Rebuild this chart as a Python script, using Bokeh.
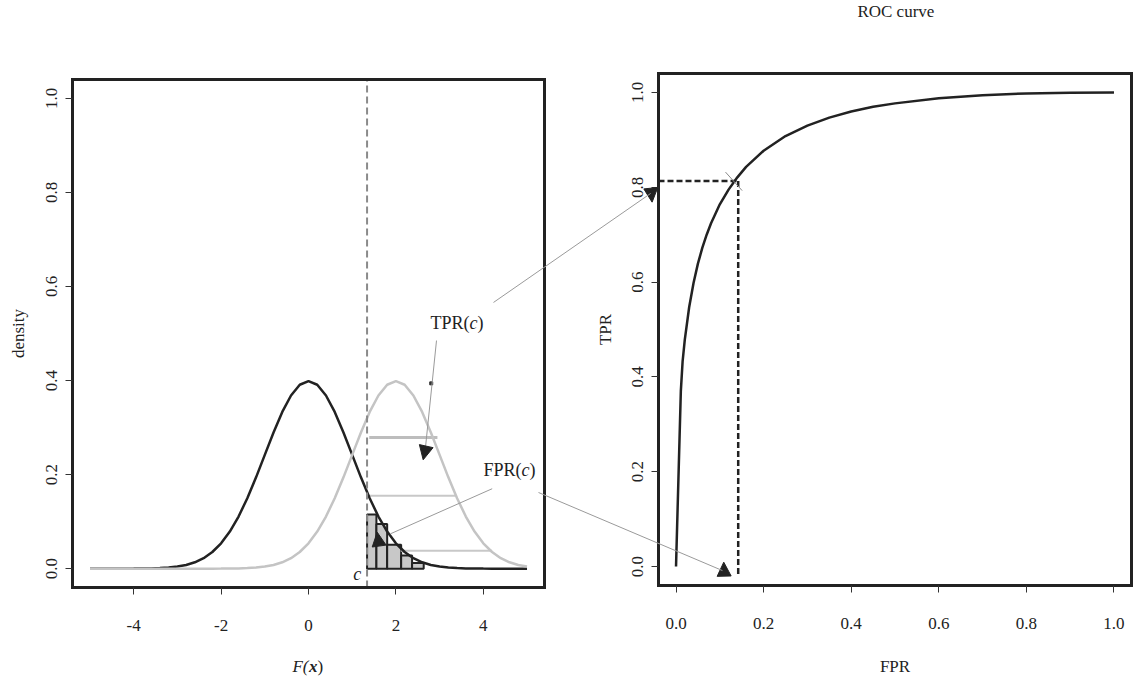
from bokeh.plotting import figure
from bokeh.models import (FixedTicker, Label, Arrow, NormalHead, Range1d, LinearAxis)
from bokeh.embed import file_html
from bokeh.resources import INLINE

FONT = "Liberation Serif"
INK = "#222222"

# ---------------- data ----------------
x_grid = [-5.0, -4.8, -4.6, -4.4, -4.2, -4.0, -3.8, -3.6, -3.4, -3.2, -3.0,
          -2.8, -2.6, -2.4, -2.2, -2.0, -1.8, -1.6, -1.4, -1.2, -1.0,
          -0.8, -0.6, -0.4, -0.2, 0.0, 0.2, 0.4, 0.6, 0.8, 1.0,
          1.2, 1.4, 1.6, 1.8, 2.0, 2.2, 2.4, 2.6, 2.8, 3.0,
          3.2, 3.4, 3.6, 3.8, 4.0, 4.2, 4.4, 4.6, 4.8, 5.0]
dens_negative = [0.0, 0.0, 0.00001, 0.00002, 0.00006, 0.00013, 0.00029, 0.00061, 0.00123, 0.00238, 0.00443,
                 0.00792, 0.01358, 0.02239, 0.03547, 0.05399, 0.07895, 0.11092, 0.14973, 0.19419, 0.24197,
                 0.28969, 0.33322, 0.36827, 0.39104, 0.39894, 0.39104, 0.36827, 0.33322, 0.28969, 0.24197,
                 0.19419, 0.14973, 0.11092, 0.07895, 0.05399, 0.03547, 0.02239, 0.01358, 0.00792, 0.00443,
                 0.00238, 0.00123, 0.00061, 0.00029, 0.00013, 0.00006, 0.00002, 0.00001, 0.0, 0.0]
dens_positive = [0.0, 0.0, 0.0, 0.0, 0.0, 0.0, 0.0, 0.0, 0.0, 0.0, 0.0,
                 0.0, 0.00001, 0.00002, 0.00006, 0.00013, 0.00029, 0.00061, 0.00123, 0.00238, 0.00443,
                 0.00792, 0.01358, 0.02239, 0.03547, 0.05399, 0.07895, 0.11092, 0.14973, 0.19419, 0.24197,
                 0.28969, 0.33322, 0.36827, 0.39104, 0.39894, 0.39104, 0.36827, 0.33322, 0.28969, 0.24197,
                 0.19419, 0.14973, 0.11092, 0.07895, 0.05399, 0.03547, 0.02239, 0.01358, 0.00792, 0.00443]

cutoff = 1.34

fpr_bar_left = [1.34, 1.554, 1.80, 2.12, 2.37]
fpr_bar_right = [1.554, 1.80, 2.12, 2.37, 2.636]
fpr_bar_top = [0.115, 0.095, 0.051, 0.028, 0.012]

tpr_line_y = [0.279, 0.155, 0.038]
tpr_line_x0 = [1.39, 1.39, 2.11]
tpr_line_x1 = [2.95, 3.36, 4.20]

roc_fpr = [0.0, 0.011, 0.015, 0.02, 0.03, 0.04, 0.05, 0.06, 0.07, 0.08, 0.10, 0.12, 0.14, 0.16,
           0.20, 0.25, 0.30, 0.35, 0.40, 0.45, 0.50, 0.60, 0.70, 0.80, 0.90, 1.00]
roc_tpr = [0.0, 0.37, 0.432, 0.478, 0.547, 0.598, 0.639, 0.672, 0.70, 0.724, 0.764, 0.795, 0.821, 0.843,
           0.877, 0.908, 0.930, 0.947, 0.960, 0.970, 0.977, 0.988, 0.994, 0.998, 0.9995, 1.0]

op_fpr = 0.142
op_tpr = 0.813

left_xticks = [-4, -2, 0, 2, 4]
left_xlabels = ["-4", "-2", "0", "2", "4"]
unit_ticks = [0.0, 0.2, 0.4, 0.6, 0.8, 1.0]
unit_labels = ["0.0", "0.2", "0.4", "0.6", "0.8", "1.0"]

# ---------------- layout (one canvas, two panels) ----------------
W, H = 1137, 682
# panel frames in page pixels: (left, right, top, bottom)
L_FRAME = (72, 544, 79, 587)
R_FRAME = (658, 1131, 73, 585)
LX = (-5.4, 5.4)
LY = (-0.04, 1.04)
RX = (-0.04, 1.04)
RY = (-0.04, 1.04)


def canvas_range(frame, xr, yr):
    l, r, t, b = frame
    sx = (r - l) / (xr[1] - xr[0])
    sy = (b - t) / (yr[1] - yr[0])
    xrange = Range1d(xr[0] - l / sx, xr[0] + (W - l) / sx)
    yrange = Range1d(yr[0] - (H - b) / sy, yr[1] + t / sy)
    return xrange, yrange


def to_page(frame, xr, yr, x, y):
    l, r, t, b = frame
    return (l + (x - xr[0]) / (xr[1] - xr[0]) * (r - l),
            b - (y - yr[0]) / (yr[1] - yr[0]) * (b - t))


def from_page(frame, xr, yr, px, py):
    l, r, t, b = frame
    return (xr[0] + (px - l) / (r - l) * (xr[1] - xr[0]),
            yr[0] + (b - py) / (b - t) * (yr[1] - yr[0]))


lxr, lyr = canvas_range(L_FRAME, LX, LY)
rxr, ryr = canvas_range(R_FRAME, RX, RY)

p = figure(width=W, height=H, x_range=Range1d(0, W), y_range=Range1d(H, 0),
           x_axis_type=None, y_axis_type=None, output_backend="svg",
           toolbar_location=None, min_border=0, min_border_left=0, min_border_right=0,
           min_border_top=0, min_border_bottom=0)
p.extra_x_ranges = {"lx": lxr, "rx": rxr}
p.extra_y_ranges = {"ly": lyr, "ry": ryr}
p.outline_line_color = None
p.background_fill_color = "white"
p.border_fill_color = "white"
p.grid.visible = False

LEFT = dict(x_range_name="lx", y_range_name="ly")
RIGHT = dict(x_range_name="rx", y_range_name="ry")


def style_axis(ax):
    ax.axis_line_color = None
    ax.major_tick_line_color = "#333333"
    ax.major_tick_line_width = 1
    ax.major_tick_in = 0
    ax.major_tick_out = 7
    ax.minor_tick_line_color = None
    ax.major_label_text_font = FONT
    ax.major_label_text_font_size = "17px"
    ax.major_label_text_color = INK


def add_axes(names, xr, yr, xt, xl, yt, yl):
    xa = LinearAxis(fixed_location=yr[0], bounds=xr, ticker=FixedTicker(ticks=xt),
                    major_label_overrides={t: s for t, s in zip(xt, xl)}, **names)
    style_axis(xa)
    xa.major_label_standoff = 25
    p.add_layout(xa, "below")
    ya = LinearAxis(fixed_location=xr[0], bounds=yr, ticker=FixedTicker(ticks=yt),
                    major_label_overrides={t: s for t, s in zip(yt, yl)}, **names)
    style_axis(ya)
    ya.major_label_orientation = "vertical"
    ya.major_label_standoff = 8
    p.add_layout(ya, "left")


add_axes(LEFT, LX, LY, left_xticks, left_xlabels, unit_ticks, unit_labels)
add_axes(RIGHT, RX, RY, unit_ticks, unit_labels, unit_ticks, unit_labels)


def text(names, x, y, s, size="17px", style_="normal", align="left", baseline="alphabetic",
         angle=0.0, xoff=0):
    p.add_layout(Label(x=x, y=y, text=s, text_font=FONT, text_font_size=size,
                       text_font_style=style_, text_align=align, text_baseline=baseline,
                       text_color=INK, angle=angle, x_offset=xoff, **names))


def leader(names, x0, y0, x1, y1, color="#9a9a9a", width=1):
    p.add_layout(Arrow(x_start=x0, y_start=y0, x_end=x1, y_end=y1, end=None,
                       line_color=color, line_width=width, **names))


def head(names, xb, yb, xt, yt):
    p.add_layout(Arrow(x_start=xb, y_start=yb, x_end=xt, y_end=yt, line_alpha=0,
                       end=NormalHead(size=14, fill_color=INK, line_color=INK, line_width=1),
                       **names))


# ---------------- left panel ----------------
p.quad(left=fpr_bar_left, right=fpr_bar_right, bottom=0, top=fpr_bar_top,
       fill_color="#c8c8c8", line_color=INK, line_width=2, **LEFT)
p.segment(x0=tpr_line_x0, y0=tpr_line_y, x1=tpr_line_x1, y1=tpr_line_y,
          line_color=["#bdbdbd", "#c8c8c8", "#c8c8c8"], line_width=[3, 2, 2], **LEFT)
p.line(x_grid, dens_negative, line_color=INK, line_width=2.5, **LEFT)
p.line(x_grid, dens_positive, line_color="#c4c4c4", line_width=2.5, **LEFT)
p.segment(x0=[cutoff], y0=[LY[0]], x1=[cutoff], y1=[LY[1]],
          line_color="#8a8a8a", line_width=2, line_dash="7 4", **LEFT)
p.quad(left=[LX[0]], right=[LX[1]], bottom=[LY[0]], top=[LY[1]], fill_alpha=0,
       line_color=INK, line_width=3, line_join="miter", **LEFT)

text(LEFT, 2.79, 0.522, "TPR(", size="18px")
text(LEFT, 2.79, 0.522, "c", size="18px", style_="italic", xoff=39)
text(LEFT, 2.79, 0.522, ")", size="18px", xoff=47)
text(LEFT, 4.004, 0.209, "FPR(", size="18px")
text(LEFT, 4.004, 0.209, "c", size="18px", style_="italic", xoff=38)
text(LEFT, 4.004, 0.209, ")", size="18px", xoff=46)
text(LEFT, 1.023, -0.012, "c", size="18px", style_="italic")

text(LEFT, 0.0, -0.208, "F(", style_="italic", align="right")
text(LEFT, 0.0, -0.208, "x", style_="bold italic", xoff=0.5)
text(LEFT, 0.0, -0.208, ")", xoff=9)
dx, dy = from_page(L_FRAME, LX, LY, 18, (L_FRAME[2] + L_FRAME[3]) / 2)
text(LEFT, dx, dy, "density", align="center", baseline="middle", angle=1.5708)

leader(LEFT, 2.929, 0.485, 2.677, 0.258)
p.scatter([2.808], [0.394], marker="square", size=3, color="#333333", **LEFT)
head(LEFT, 2.684, 0.2566, 2.624, 0.2315)
leader(LEFT, 4.203, 0.170, 1.876, 0.0742)
head(LEFT, 1.620, 0.0457, 1.572, 0.0776)

# ---------------- right panel ----------------
p.line(roc_fpr, roc_tpr, line_color=INK, line_width=2.5, **RIGHT)
p.segment(x0=[RX[0], op_fpr], y0=[op_tpr, op_tpr], x1=[op_fpr, op_fpr], y1=[op_tpr, -0.019],
          line_color=INK, line_width=2.5, line_dash="6 3", **RIGHT)
p.quad(left=[RX[0]], right=[RX[1]], bottom=[RY[0]], top=[RY[1]], fill_alpha=0,
       line_color=INK, line_width=3, line_join="miter", **RIGHT)
leader(RIGHT, 0.113, 0.832, 0.151, 0.793, color="#8a8a8a")

text(RIGHT, 0.502, 1.171, "ROC curve", align="center")
text(RIGHT, 0.5, -0.211, "FPR", align="center")
tx, ty = from_page(R_FRAME, RX, RY, 605, (R_FRAME[2] + R_FRAME[3]) / 2)
text(RIGHT, tx, ty, "TPR", align="center", baseline="middle", angle=1.5708)

head(RIGHT, -0.0578, 0.800, -0.0546, 0.7686)
head(RIGHT, 0.110, -0.0235, 0.109, 0.0092)

# ---------------- leaders from left labels into the ROC panel ----------------
def crossing(start_left, end_right):
    a = to_page(L_FRAME, LX, LY, *start_left)
    b = to_page(R_FRAME, RX, RY, *end_right)
    leader({}, a[0], a[1], b[0], b[1])


crossing((4.233, 0.566), (-0.058, 0.787))
crossing((5.263, 0.162), (0.106, -0.0085))

open("out.html", "w").write(file_html(p, INLINE))
